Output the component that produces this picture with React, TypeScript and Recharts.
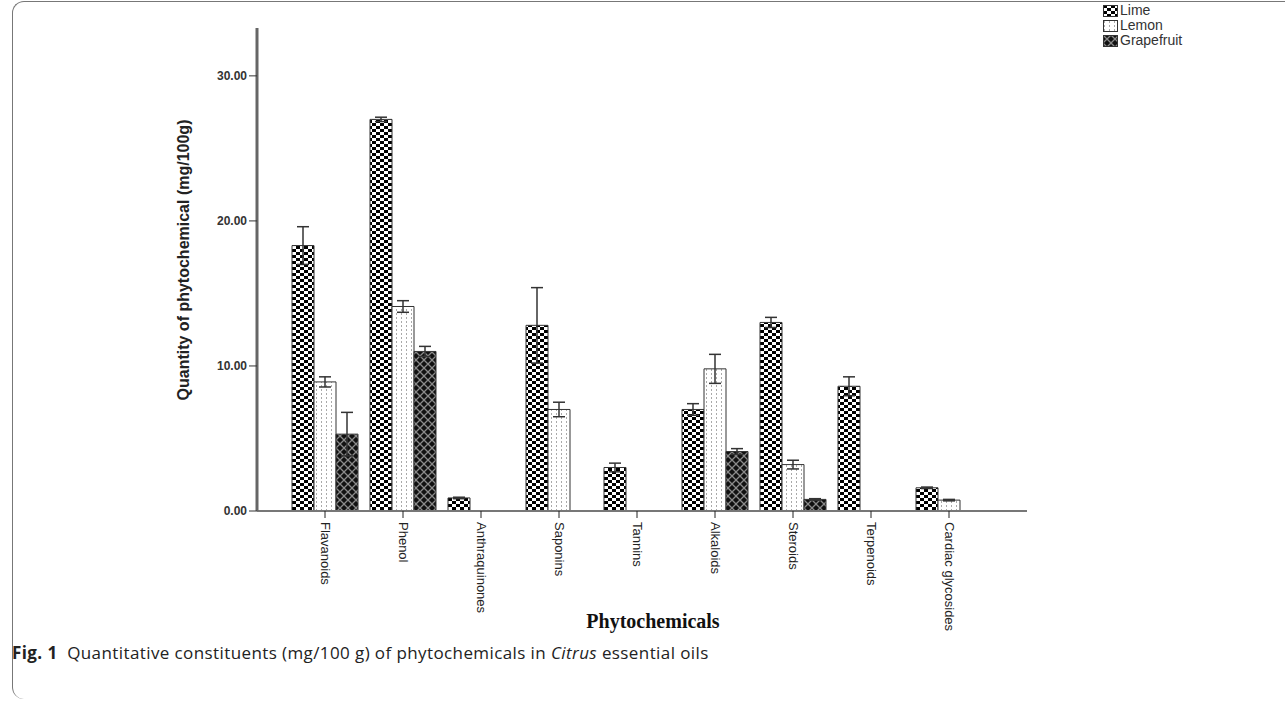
import React from "react";
import { BarChart, Bar, XAxis, YAxis, ErrorBar } from "recharts";

const categories = [
  "Flavanoids",
  "Phenol",
  "Anthraquinones",
  "Saponins",
  "Tannins",
  "Alkaloids",
  "Steroids",
  "Terpenoids",
  "Cardiac glycosides",
];

const lime = [18.3, 27.0, 0.9, 12.8, 3.0, 7.0, 13.0, 8.6, 1.6];
const limeErr = [1.3, 0.15, 0.05, 2.6, 0.3, 0.4, 0.35, 0.65, 0.05];
const lemon = [8.9, 14.1, 0, 7.0, 0, 9.8, 3.2, 0, 0.75];
const lemonErr = [0.35, 0.4, null, 0.5, null, 1.0, 0.3, null, 0.05];
const grapefruit = [5.3, 11.0, 0, 0, 0, 4.1, 0.8, 0, 0];
const grapefruitErr = [1.5, 0.35, null, null, null, 0.2, 0.05, null, null];

const yTicks = [0, 10, 20, 30];

const seriesNames = ["Lime", "Lemon", "Grapefruit"];

const data = categories.map((name, i) => ({
  name,
  lime: lime[i],
  limeErr: limeErr[i],
  lemon: lemon[i],
  lemonErr: lemonErr[i],
  grapefruit: grapefruit[i],
  grapefruitErr: grapefruitErr[i],
}));

const sans = "'Liberation Sans', Arial, sans-serif";

const Patterns = () => (
  <svg width={0} height={0} style={{ position: "absolute" }}>
    <defs>
      <pattern id="pLime" width={8} height={6} patternUnits="userSpaceOnUse">
        <rect width={8} height={6} fill="#fff" />
        <rect x={0} y={0} width={4} height={3} fill="#000" />
        <rect x={4} y={3} width={4} height={3} fill="#000" />
      </pattern>
      <pattern id="pLemon" width={5} height={4} patternUnits="userSpaceOnUse">
        <rect width={5} height={4} fill="#fff" />
        <rect x={1} y={1} width={1} height={2} fill="#aaa" />
      </pattern>
      <pattern id="pGrape" width={8} height={8} patternUnits="userSpaceOnUse">
        <rect width={8} height={8} fill="#111" />
        <path d="M0,0 L8,8 M8,0 L0,8" stroke="#8a8a8a" strokeWidth={1.3} />
      </pattern>
    </defs>
  </svg>
);

const XTick = (props: any) => {
  const { x, y, payload } = props;
  return (
    <text
      x={x}
      y={y + 2}
      transform={`rotate(90, ${x}, ${y + 2})`}
      textAnchor="start"
      dominantBaseline="central"
      fontFamily={sans}
      fontSize={13}
      fill="#222"
    >
      {payload.value}
    </text>
  );
};

const YLabel = (props: any) => {
  const { viewBox } = props;
  const cx = viewBox.x + 23;
  const cy = 260;
  return (
    <text
      x={cx}
      y={cy}
      transform={`rotate(-90, ${cx}, ${cy})`}
      textAnchor="middle"
      dominantBaseline="central"
      fontFamily={sans}
      fontWeight={700}
      fontSize={16}
      fill="#222"
    >
      Quantity of phytochemical (mg/100g)
    </text>
  );
};

const XLabel = () => (
  <text
    x={653}
    y={628}
    textAnchor="middle"
    fontFamily="'Liberation Serif', 'Times New Roman', serif"
    fontWeight={700}
    fontSize={20}
    fill="#111"
  >
    Phytochemicals
  </text>
);

const swatches = ["url(#pLime)", "url(#pLemon)", "url(#pGrape)"];

const App: React.FC = () => {
  return (
    <div
      style={{
        position: "fixed",
        left: 0,
        top: 0,
        width: 1285,
        height: 703,
        background: "#fff",
        overflow: "hidden",
      }}
    >
      <Patterns />
      <div
        style={{
          position: "absolute",
          left: 12,
          top: 1,
          width: 1300,
          height: 697,
          borderTop: "1.5px solid #777",
          borderLeft: "1.5px solid #777",
          borderRadius: "12px 0 0 12px",
        }}
      />
      <div style={{ position: "absolute", left: 0, top: 0 }}>
        <BarChart
          width={1285}
          height={703}
          data={data}
          margin={{ top: 28, right: 258, left: 160, bottom: 42 }}
          barCategoryGap={6}
          barGap={0}
        >
          <XAxis
            dataKey="name"
            interval={0}
            height={150}
            padding={{ left: 29, right: 39 }}
            axisLine={{ stroke: "#777", strokeWidth: 2 }}
            tickLine={{ stroke: "#222" }}
            tickSize={7}
            tick={<XTick />}
            label={<XLabel />}
          />
          <YAxis
            width={97}
            domain={[0, 33.3]}
            ticks={yTicks}
            allowDataOverflow
            tickFormatter={(v: number) => v.toFixed(2)}
            axisLine={{ stroke: "#666", strokeWidth: 3 }}
            tickLine={{ stroke: "#333" }}
            tickSize={8}
            tick={{
              fontFamily: sans,
              fontSize: 12,
              fontWeight: 700,
              fill: "#333",
            }}
            label={<YLabel />}
          />
          <Bar
            dataKey="lime"
            name="Lime"
            fill="url(#pLime)"
            stroke="#333"
            strokeWidth={1}
            isAnimationActive={false}
          >
            <ErrorBar dataKey="limeErr" width={6} stroke="#333" strokeWidth={1.5} />
          </Bar>
          <Bar
            dataKey="lemon"
            name="Lemon"
            fill="url(#pLemon)"
            stroke="#333"
            strokeWidth={1}
            isAnimationActive={false}
          >
            <ErrorBar dataKey="lemonErr" width={6} stroke="#333" strokeWidth={1.5} />
          </Bar>
          <Bar
            dataKey="grapefruit"
            name="Grapefruit"
            fill="url(#pGrape)"
            stroke="#333"
            strokeWidth={1}
            isAnimationActive={false}
          >
            <ErrorBar dataKey="grapefruitErr" width={6} stroke="#333" strokeWidth={1.5} />
          </Bar>
        </BarChart>
      </div>
      <div
        style={{
          position: "absolute",
          left: 1103,
          top: 3,
          fontFamily: sans,
          fontSize: 14,
          color: "#333",
          lineHeight: "15px",
        }}
      >
        {seriesNames.map((s, i) => (
          <div key={s} style={{ display: "flex", alignItems: "center" }}>
            <svg width={15} height={12} style={{ marginRight: 2 }}>
              <rect x={0.5} y={0.5} width={14} height={11} fill={swatches[i]} stroke="#333" />
            </svg>
            {s}
          </div>
        ))}
      </div>
      <div
        style={{
          position: "absolute",
          left: 12,
          top: 641,
          fontFamily: "'Open Sans', sans-serif",
          fontSize: 17,
          letterSpacing: 0.4,
          color: "#222",
          whiteSpace: "nowrap",
        }}
      >
        <b>Fig. 1</b>&nbsp; Quantitative constituents (mg/100 g) of phytochemicals in{" "}
        <i>Citrus</i> essential oils
      </div>
    </div>
  );
};

export default App;
